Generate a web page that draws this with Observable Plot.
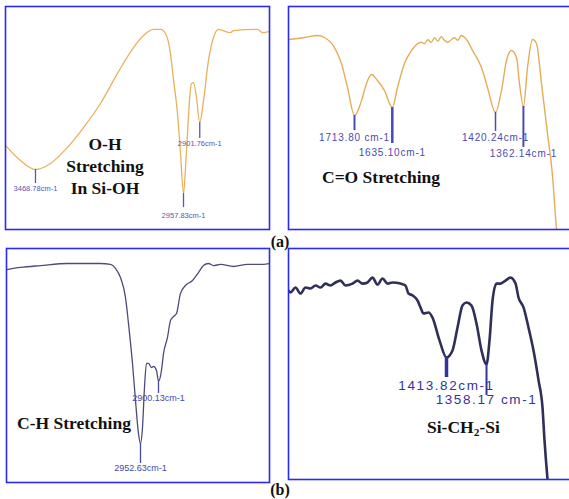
<!DOCTYPE html>
<html>
<head>
<meta charset="utf-8">
<script src="https://cdn.jsdelivr.net/npm/d3@7"></script>
<script src="https://cdn.jsdelivr.net/npm/@observablehq/plot@0.6"></script>
<style>
  html, body { margin: 0; padding: 0; background: #fff; }
  #wrap { position: relative; width: 569px; height: 499px; overflow: hidden; background: #fff; }
  .cap { position: absolute; font-family: "Liberation Serif", "Times New Roman", serif; font-weight: bold; font-size: 17.5px; line-height: 22px; color: #111; white-space: nowrap; }
  .cap sub { font-size: 0.65em; line-height: 0; vertical-align: -0.3em; }
  .tag { position: absolute; font-family: "Liberation Serif", "Times New Roman", serif; font-weight: bold; font-size: 16px; line-height: 22px; color: #111; text-align: center; width: 40px; }
</style>
</head>
<body>
<div id="wrap"></div>
<script>
// ---------- Data ----------
// (a) top-left: O-H stretching region
const tlWavenumber = [3572.3, 3520.6, 3468.8, 3417.0, 3358.3, 3303.1, 3244.4, 3185.7, 3130.5, 3095.9, 3061.4, 3037.3, 3020.0, 3002.8, 2992.4, 2978.6, 2968.2, 2957.8, 2950.9, 2944.1, 2937.2, 2930.3, 2923.4, 2913.0, 2901.8, 2888.8, 2871.6, 2854.3, 2837.1, 2795.6, 2785.3, 2702.4, 2685.2, 2661.0];
const tlTransmittance = [37.7, 30.9, 26.9, 29.6, 36.8, 45.7, 56.5, 70.0, 81.6, 87.0, 89.7, 89.7, 87.9, 78.9, 67.3, 52.0, 34.1, 16.1, 27.8, 43.0, 57.8, 65.5, 65.9, 59.2, 48.0, 57.8, 75.8, 86.1, 89.7, 88.3, 89.2, 89.7, 88.3, 88.8];
const tlPeakWavenumber = [3468.78, 2957.83, 2901.76];
const tlPeakLabel = ["3468.78cm-1", "2957.83cm-1", "2901.76cm-1"];
const tlCaption = ["O-H", "Stretching", "In Si-OH"];

// (a) top-right: C=O stretching region
const trWavenumber = [1851.2, 1817.9, 1790.8, 1776.3, 1755.4, 1740.9, 1728.4, 1713.8, 1699.2, 1688.8, 1678.4, 1665.9, 1651.3, 1635.1, 1624.3, 1609.7, 1595.1, 1574.9, 1568.1, 1561.2, 1554.1, 1547.2, 1540.4, 1533.3, 1526.4, 1519.5, 1512.5, 1505.6, 1498.7, 1491.7, 1484.8, 1479.2, 1468.1, 1449.4, 1436.9, 1420.2, 1407.8, 1397.3, 1386.9, 1376.5, 1370.3, 1362.1, 1353.6, 1343.2, 1334.9, 1324.5, 1312.0, 1301.6, 1293.2, 1287.0];
const trTransmittance = [85.2, 86.1, 87.0, 86.1, 81.6, 74.4, 63.7, 51.1, 57.8, 65.5, 69.5, 66.8, 62.3, 54.7, 63.7, 74.4, 80.3, 84.0, 83.3, 85.1, 84.0, 86.0, 84.4, 86.5, 84.8, 84.0, 85.1, 86.0, 84.8, 87.0, 86.2, 84.8, 80.3, 72.6, 63.7, 52.5, 62.3, 75.8, 80.3, 77.1, 65.5, 55.2, 72.6, 85.2, 83.4, 65.5, 43.0, 24.2, 0, -12];
const trPeakWavenumber = [1713.80, 1635.10, 1420.24, 1362.14];
const trPeakLabel = ["1713.80 cm-1", "1635.10cm-1", "1420.24cm-1", "1362.14cm-1"];
const trCaption = ["C=O Stretching"];

// (b) bottom-left: C-H stretching region
const blWavenumber = [3343.5, 3302.7, 3244.3, 3165.6, 3107.2, 3069.3, 3040.1, 3025.6, 3011.0, 2996.4, 2987.6, 2976.0, 2967.2, 2958.5, 2952.6, 2946.8, 2941.0, 2935.1, 2929.3, 2920.5, 2914.7, 2905.9, 2900.1, 2891.4, 2885.5, 2873.9, 2865.1, 2856.4, 2847.6, 2836.0, 2821.4, 2800.9, 2783.5, 2768.9, 2754.3, 2739.7, 2719.3, 2681.4, 2640.5, 2602.6, 2576.3];
const blTransmittance = [91.0, 91.9, 92.7, 93.6, 93.6, 93.6, 93.2, 91.5, 87.6, 79.1, 67.9, 50.9, 35.0, 20.9, 16.7, 23.5, 40.6, 50.9, 50.9, 49.1, 49.6, 47.9, 43.2, 47.9, 55.1, 62.0, 69.2, 70.9, 72.2, 80.8, 84.2, 86.3, 89.7, 92.7, 93.6, 92.7, 93.2, 92.3, 93.2, 93.2, 93.6];
const blPeakWavenumber = [2952.63, 2900.13];
const blPeakLabel = ["2952.63cm-1", "2900.13cm-1"];
const blCaption = ["C-H Stretching"];

// (b) bottom-right: Si-CH2-Si region
const brWavenumber = [1633.6, 1630.8, 1623.9, 1616.9, 1610.0, 1603.0, 1596.0, 1589.1, 1582.1, 1575.2, 1568.2, 1561.3, 1554.3, 1544.6, 1537.6, 1530.7, 1523.7, 1516.8, 1509.8, 1502.8, 1495.9, 1488.9, 1477.8, 1470.9, 1466.7, 1461.1, 1454.2, 1450.0, 1445.8, 1438.9, 1433.3, 1423.6, 1413.8, 1405.5, 1398.5, 1391.6, 1386.0, 1379.0, 1372.1, 1365.1, 1358.2, 1354.0, 1349.8, 1344.3, 1338.7, 1331.8, 1324.8, 1317.8, 1313.7, 1306.7, 1299.8, 1292.8, 1285.8, 1280.3, 1277.5, 1273.3, 1270.5];
const brTransmittance = [81.8, 81.0, 83.1, 80.5, 83.1, 82.7, 84.0, 83.1, 84.8, 84.0, 85.3, 86.1, 84.0, 84.8, 86.1, 84.8, 85.3, 87.4, 84.4, 87.0, 84.8, 85.3, 84.8, 84.0, 80.5, 79.7, 77.5, 74.5, 71.9, 72.3, 70.1, 60.2, 52.8, 55.8, 65.8, 75.3, 76.6, 75.3, 67.5, 55.8, 49.8, 60.2, 77.5, 84.8, 84.8, 86.1, 87.4, 84.8, 78.8, 74.5, 65.8, 55.8, 42.9, 31.2, 16.9, 0, -9.1];
const brPeakWavenumber = [1413.82, 1358.17];
const brPeakLabel = ["1413.82cm-1", "1358.17 cm-1"];

const panelTags = ["(a)", "(b)"];

// ---------- Drawing ----------
const wrap = document.getElementById("wrap");

function panel(cfg) {
  const data = cfg.wn.map((x, i) => ({x, y: cfg.t[i]}));
  const k = 100 / cfg.h; // data units per pixel (y)
  const peaks = cfg.peaks.map((p, i) => {
    const near = d3.least(data, d => Math.abs(d.x - p));
    return {x: p, y: near.y, label: cfg.labels[i], tick: cfg.ticks[i], off: cfg.offs[i], sw: cfg.tickWidths[i]};
  });
  const svg = Plot.plot({
    width: cfg.w + 2,
    height: cfg.h + 2,
    margin: 1,
    x: {domain: cfg.domain, axis: null},
    y: {domain: [0, 100], axis: null},
    style: {background: "transparent", letterSpacing: cfg.spacing + "px", overflow: "visible"},
    marks: [
      Plot.line(data, {x: "x", y: "y", stroke: cfg.curve, strokeWidth: cfg.curveWidth, curve: "monotone-x", clip: true}),
      Plot.ruleX(peaks, {x: "x", y1: "y", y2: d => d.y - d.tick * k, stroke: cfg.markColor, strokeWidth: "sw"}),
      Plot.text(peaks, {x: "x", y: d => d.y - d.off * k, text: "label", fill: cfg.markColor, fontSize: cfg.fontSize, fontFamily: "Liberation Sans, Arial, sans-serif", textAnchor: "middle", lineAnchor: "middle"}),
      Plot.frame({stroke: "#2a2af5", strokeWidth: 1.6})
    ]
  });
  svg.style.position = "absolute";
  svg.style.left = (cfg.left - 1) + "px";
  svg.style.top = (cfg.top - 1) + "px";
  svg.style.maxWidth = "none";
  wrap.appendChild(svg);
}

panel({wn: tlWavenumber, t: tlTransmittance, peaks: tlPeakWavenumber, labels: tlPeakLabel,
  domain: [3572.3, 2661.0], left: 5, top: 6, w: 264, h: 223,
  curve: "#e7b25e", curveWidth: 1.3, markColor: "#5656b8", tickWidths: [1.3, 1.3, 1.3],
  ticks: [14, 14, 16], offs: [19, 22, 21], fontSize: 7.5, spacing: 0});

panel({wn: trWavenumber, t: trTransmittance, peaks: trPeakWavenumber, labels: trPeakLabel,
  domain: [1851.2, 1253.7], left: 288, top: 6, w: 287, h: 223,
  curve: "#e4ad58", curveWidth: 1.4, markColor: "#4a4ab4", tickWidths: [2, 2.5, 1.5, 2],
  ticks: [15, 36, 19, 41], offs: [22, 45, 25, 47], fontSize: 10, spacing: 0.8});

panel({wn: blWavenumber, t: blTransmittance, peaks: blPeakWavenumber, labels: blPeakLabel,
  domain: [3343.5, 2576.3], left: 6, top: 248, w: 263, h: 234,
  curve: "#4c4c7a", curveWidth: 1.3, markColor: "#4646ae", tickWidths: [1.3, 1.3],
  ticks: [20, 12], offs: [25, 17], fontSize: 9, spacing: 0});

panel({wn: brWavenumber, t: brTransmittance, peaks: brPeakWavenumber, labels: brPeakLabel,
  domain: [1633.6, 1234.4], left: 288, top: 248, w: 287, h: 231,
  curve: "#2f2f5a", curveWidth: 2.6, markColor: "#33339c", tickWidths: [3.5, 2],
  ticks: [20, 31], offs: [28, 35], fontSize: 13.5, spacing: 1.6});

// ---------- Captions ----------
function cap(html, style) {
  const d = document.createElement("div");
  d.className = "cap";
  d.innerHTML = html;
  Object.assign(d.style, style);
  wrap.appendChild(d);
}
cap(tlCaption.join("<br>"), {left: "45px", width: "120px", textAlign: "center", top: "133px"});
cap(trCaption[0], {left: "322px", top: "166px"});
cap(blCaption[0], {left: "17px", top: "412px"});
cap("Si-CH<sub>2</sub>-Si", {left: "427px", top: "416px"});

panelTags.forEach((t, i) => {
  const d = document.createElement("div");
  d.className = "tag";
  d.textContent = t;
  d.style.left = "260px";
  d.style.top = (i === 0 ? 231 : 479) + "px";
  wrap.appendChild(d);
});
</script>
</body>
</html>
